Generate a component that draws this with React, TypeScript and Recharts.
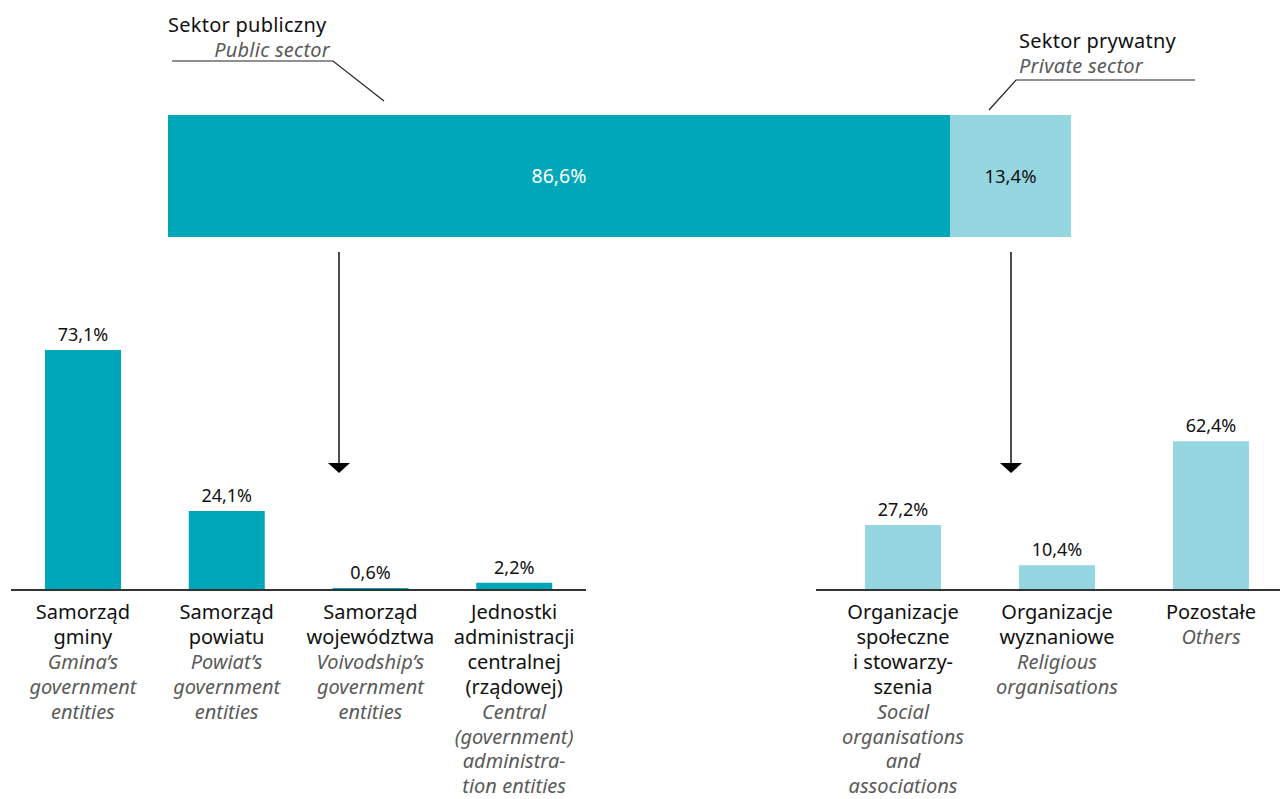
import React from 'react';
import { BarChart, Bar, XAxis, YAxis, LabelList } from 'recharts';

const FONT = '"Noto Sans", "Open Sans", sans-serif';
const PUBLIC_COLOR = '#00A7B9';
const PRIVATE_COLOR = '#95D6E0';

// Top split
const sectorShares = [{ name: 'total', publicShare: 86.6, privateShare: 13.4 }];

// Public sector breakdown
const publicCategories = ['gminy', 'powiatu', 'wojewodztwa', 'centralnej'];
const publicValues = [73.1, 24.1, 0.6, 2.2];
const publicLabelsPl = [
  ['Samorząd', 'gminy'],
  ['Samorząd', 'powiatu'],
  ['Samorząd', 'województwa'],
  ['Jednostki', 'administracji', 'centralnej', '(rządowej)'],
];
const publicLabelsEn = [
  ['Gmina’s', 'government', 'entities'],
  ['Powiat’s', 'government', 'entities'],
  ['Voivodship’s', 'government', 'entities'],
  ['Central', '(government)', 'administra-', 'tion entities'],
];

// Private sector breakdown
const privateCategories = ['spoleczne', 'wyznaniowe', 'pozostale'];
const privateValues = [27.2, 10.4, 62.4];
const privateLabelsPl = [
  ['Organizacje', 'społeczne', 'i stowarzy-', 'szenia'],
  ['Organizacje', 'wyznaniowe'],
  ['Pozostałe'],
];
const privateLabelsEn = [
  ['Social', 'organisations', 'and', 'associations'],
  ['Religious', 'organisations'],
  ['Others'],
];

const fmt = (v: number) => v.toFixed(1).replace('.', ',') + '%';

const publicData = publicCategories.map((c, i) => ({ cat: c, value: publicValues[i] }));
const privateData = privateCategories.map((c, i) => ({ cat: c, value: privateValues[i] }));

const LINE_STEP = 24.9;

const makeTick = (cats: string[], pl: string[][], en: string[][]) => (props: any) => {
  const { x, y, payload } = props;
  const idx = cats.indexOf(payload.value);
  const lines = [
    ...pl[idx].map((t) => ({ t, en: false })),
    ...en[idx].map((t) => ({ t, en: true })),
  ];
  return (
    <text x={x} y={y + 21} textAnchor="middle" fontFamily={FONT} fontSize={20}>
      {lines.map((l, i) => (
        <tspan
          key={i}
          x={x}
          dy={i === 0 ? 0 : LINE_STEP}
          fontStyle={l.en ? 'italic' : 'normal'}
          fill={l.en ? '#5a5a5a' : '#111'}
        >
          {l.t}
        </tspan>
      ))}
    </text>
  );
};

const valueLabelStyle = { fontFamily: FONT, fontSize: 18, fill: '#111' };

export default function App() {
  return (
    <div
      style={{
        position: 'absolute',
        left: 0,
        top: 0,
        width: 1280,
        height: 799,
        overflow: 'hidden',
        background: '#fff',
        fontFamily: FONT,
      }}
    >
      {/* Top stacked bar */}
      <div style={{ position: 'absolute', left: 0, top: 0 }}>
        <BarChart
          width={1280}
          height={260}
          data={sectorShares}
          layout="vertical"
          margin={{ top: 115, right: 209, bottom: 23, left: 168 }}
          barCategoryGap={0}
        >
          <XAxis type="number" domain={[0, 100]} hide />
          <YAxis type="category" dataKey="name" hide />
          <Bar dataKey="publicShare" stackId="s" fill={PUBLIC_COLOR} isAnimationActive={false}>
            <LabelList
              dataKey="publicShare"
              position="center"
              formatter={(v: any) => fmt(Number(v))}
              style={{ fontFamily: FONT, fontSize: 19.5, fill: '#fff' }}
            />
          </Bar>
          <Bar dataKey="privateShare" stackId="s" fill={PRIVATE_COLOR} isAnimationActive={false}>
            <LabelList
              dataKey="privateShare"
              position="center"
              formatter={(v: any) => fmt(Number(v))}
              style={{ fontFamily: FONT, fontSize: 18.5, fill: '#111' }}
            />
          </Bar>
        </BarChart>
      </div>

      {/* Public sector bars */}
      <div style={{ position: 'absolute', left: 0, top: 300 }}>
        <BarChart
          width={600}
          height={499}
          data={publicData}
          margin={{ top: 27.4, right: 14, bottom: 0, left: 11 }}
        >
          <XAxis
            dataKey="cat"
            axisLine={{ stroke: '#333', strokeWidth: 2 }}
            tickLine={false}
            height={209}
            interval={0}
            tick={makeTick(publicCategories, publicLabelsPl, publicLabelsEn)}
          />
          <YAxis domain={[0, 80]} hide />
          <Bar dataKey="value" fill={PUBLIC_COLOR} barSize={76} isAnimationActive={false}>
            <LabelList
              dataKey="value"
              position="top"
              offset={9}
              formatter={(v: any) => fmt(Number(v))}
              style={valueLabelStyle}
            />
          </Bar>
        </BarChart>
      </div>

      {/* Private sector bars */}
      <div style={{ position: 'absolute', left: 800, top: 300 }}>
        <BarChart
          width={490}
          height={499}
          data={privateData}
          margin={{ top: 123, right: 2, bottom: 0, left: 16 }}
        >
          <XAxis
            dataKey="cat"
            axisLine={{ stroke: '#333', strokeWidth: 2 }}
            tickLine={false}
            height={209}
            interval={0}
            padding={{ left: 10, right: 0 }}
            tick={makeTick(privateCategories, privateLabelsPl, privateLabelsEn)}
          />
          <YAxis domain={[0, 70]} hide />
          <Bar dataKey="value" fill={PRIVATE_COLOR} barSize={76} isAnimationActive={false}>
            <LabelList
              dataKey="value"
              position="top"
              offset={9}
              formatter={(v: any) => fmt(Number(v))}
              style={valueLabelStyle}
            />
          </Bar>
        </BarChart>
      </div>

      {/* Annotations */}
      <svg
        width={1280}
        height={799}
        style={{ position: 'absolute', left: 0, top: 0, pointerEvents: 'none' }}
      >
        <text x={168} y={32} fontFamily={FONT} fontSize={20} letterSpacing={0.25}>
          <tspan x={168} dy={0} fill="#111">
            Sektor publiczny
          </tspan>
          <tspan x={330} dy={25} textAnchor="end" fontStyle="italic" fill="#5a5a5a">
            Public sector
          </tspan>
        </text>
        <polyline points="172,61 333,61 384,101" fill="none" stroke="#222" strokeWidth={1.2} />

        <text x={1019} y={48} fontFamily={FONT} fontSize={20} letterSpacing={0.25}>
          <tspan x={1019} dy={0} fill="#111">
            Sektor prywatny
          </tspan>
          <tspan x={1019} dy={25} fontStyle="italic" fill="#5a5a5a">
            Private sector
          </tspan>
        </text>
        <polyline points="1195,80 1016,80 989,110" fill="none" stroke="#222" strokeWidth={1.2} />

        <line x1={339} y1={252} x2={339} y2={464} stroke="#111" strokeWidth={1.5} />
        <polygon points="328,463 350,463 339,473" fill="#000" />
        <line x1={1011} y1={252} x2={1011} y2={464} stroke="#111" strokeWidth={1.5} />
        <polygon points="1000,463 1022,463 1011,473" fill="#000" />
      </svg>
    </div>
  );
}
